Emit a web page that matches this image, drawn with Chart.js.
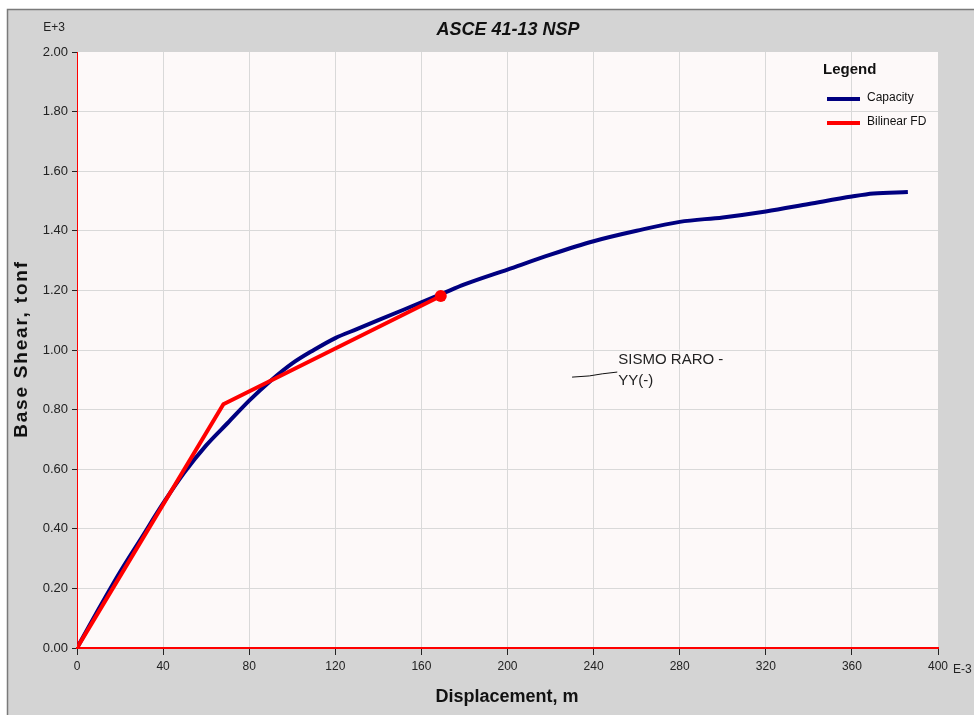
<!DOCTYPE html>
<html>
<head>
<meta charset="utf-8">
<script src="https://cdn.jsdelivr.net/npm/chart.js@4.4.0/dist/chart.umd.min.js"></script>
<style>
  html, body { margin: 0; padding: 0; background: #ffffff; }
  #wrap { width: 974px; height: 715px; position: relative; }
</style>
</head>
<body>
<div id="wrap"><canvas id="nsp" width="974" height="715"></canvas></div>
<script>
// displacement in E-3 m, base shear in E+3 tonf
var capDisp  = [0, 10, 20, 30, 40, 50, 60, 70, 80, 90, 100, 110, 120, 130, 140, 160, 170, 180, 200, 220, 240, 260, 280, 300, 320, 340, 360, 370, 386];
var capShear = [0, 0.13, 0.255, 0.37, 0.485, 0.59, 0.68, 0.755, 0.83, 0.897, 0.955, 1.0, 1.04, 1.07, 1.10, 1.16, 1.19, 1.22, 1.27, 1.32, 1.365, 1.40, 1.43, 1.445, 1.465, 1.49, 1.515, 1.525, 1.53];

var biDisp  = [0, 68, 169];
var biShear = [0, 0.818, 1.181];

var xTicks = [0, 40, 80, 120, 160, 200, 240, 280, 320, 360, 400];
var yTicks = [0, 0.2, 0.4, 0.6, 0.8, 1.0, 1.2, 1.4, 1.6, 1.8, 2.0];

var noteText = ['SISMO RARO -', 'YY(-)'];
var notePath = [[230, 0.909], [238, 0.913], [244, 0.92], [251, 0.926]];

function toPoints(xs, ys) {
    return xs.map(function (x, i) { return { x: x, y: ys[i] }; });
}

var FONT = '"Liberation Sans", Arial, sans-serif';

var framePlugin = {
    id: 'frame',
    beforeDraw: function (chart) {
        var ctx = chart.ctx, a = chart.chartArea;
        ctx.save();
        ctx.fillStyle = '#ffffff';
        ctx.fillRect(0, 0, chart.width, chart.height);
        ctx.fillStyle = '#d4d4d4';
        ctx.fillRect(7, 9, chart.width - 7, chart.height - 9);
        ctx.strokeStyle = '#7a7a7a';
        ctx.lineWidth = 1.5;
        ctx.beginPath();
        ctx.moveTo(7.5, chart.height);
        ctx.lineTo(7.5, 9.5);
        ctx.lineTo(chart.width, 9.5);
        ctx.stroke();
        ctx.fillStyle = '#fdf9f9';
        ctx.fillRect(a.left, a.top, a.right - a.left, a.bottom - a.top);
        ctx.restore();
    },
    afterDraw: function (chart) {
        var ctx = chart.ctx;
        var xs = chart.scales.x, ys = chart.scales.y;
        ctx.save();
        ctx.fillStyle = '#111';
        ctx.textBaseline = 'middle';

        // title
        ctx.textAlign = 'center';
        ctx.font = 'italic bold 18px ' + FONT;
        ctx.fillText('ASCE 41-13 NSP', 508, 30);

        // axis titles
        ctx.font = 'bold 18px ' + FONT;
        ctx.fillText('Displacement, m', 507, 697);
        ctx.save();
        ctx.translate(22, 349);
        ctx.rotate(-Math.PI / 2);
        ctx.font = 'bold 19px ' + FONT;
        ctx.letterSpacing = '1.8px';
        ctx.fillText('Base Shear, tonf', 0, 0);
        ctx.restore();

        // exponents
        ctx.font = '12px ' + FONT;
        ctx.fillStyle = '#222';
        ctx.fillText('E+3', 54, 28);
        ctx.textAlign = 'left';
        ctx.fillText('E-3', 953, 670);

        // legend
        ctx.fillStyle = '#111';
        ctx.font = 'bold 15px ' + FONT;
        ctx.fillText('Legend', 823, 70);
        ctx.font = '12px ' + FONT;
        ctx.lineWidth = 4;
        ctx.strokeStyle = '#000080';
        ctx.beginPath(); ctx.moveTo(827, 99); ctx.lineTo(860, 99); ctx.stroke();
        ctx.fillText('Capacity', 867, 98);
        ctx.strokeStyle = '#ff0000';
        ctx.beginPath(); ctx.moveTo(827, 123); ctx.lineTo(860, 123); ctx.stroke();
        ctx.fillText('Bilinear FD', 867, 122);

        // annotation
        ctx.strokeStyle = '#111';
        ctx.lineWidth = 1;
        ctx.beginPath();
        notePath.forEach(function (p, i) {
            var px = xs.getPixelForValue(p[0]), py = ys.getPixelForValue(p[1]);
            if (i === 0) ctx.moveTo(px, py); else ctx.lineTo(px, py);
        });
        ctx.stroke();
        ctx.font = '15px ' + FONT;
        ctx.fillStyle = '#222';
        var tx = xs.getPixelForValue(251.5), ty = ys.getPixelForValue(0.966);
        ctx.fillText(noteText[0], tx, ty);
        ctx.fillText(noteText[1], tx, ty + 21);
        ctx.restore();
    }
};

function gridColor(c) {
    var last = c.scale.ticks.length - 1;
    return (c.index === last || c.index === 0) ? 'rgba(0,0,0,0)' : '#d9d9d9';
}

new Chart(document.getElementById('nsp'), {
    type: 'scatter',
    data: {
        datasets: [
            {
                label: 'Bilinear FD',
                data: toPoints(biDisp, biShear),
                showLine: true,
                borderColor: '#ff0000',
                backgroundColor: '#ff0000',
                borderWidth: 4,
                pointRadius: function (c) { return c.dataIndex === biDisp.length - 1 ? 6 : 0; },
                pointBackgroundColor: '#ff0000',
                pointBorderWidth: 0,
                order: 1
            },
            {
                label: 'Capacity',
                data: toPoints(capDisp, capShear),
                showLine: true,
                borderColor: '#000080',
                borderWidth: 4,
                pointRadius: 0,
                cubicInterpolationMode: 'monotone',
                order: 2
            }
        ]
    },
    options: {
        responsive: false,
        animation: false,
        layout: { padding: { left: 0, top: 52, right: 36, bottom: 0 } },
        plugins: { legend: { display: false }, tooltip: { enabled: false } },
        scales: {
            x: {
                type: 'linear',
                min: 0, max: 400,
                afterBuildTicks: function (s) { s.ticks = xTicks.map(function (v) { return { value: v }; }); },
                afterFit: function (s) { s.height = 67; },
                ticks: {
                    maxRotation: 0, autoSkip: false, padding: 4,
                    color: '#222', font: { family: FONT, size: 12 }
                },
                grid: { color: gridColor, tickColor: '#222', tickLength: 7, lineWidth: 1 },
                border: { color: '#ff0000', width: 2 }
            },
            y: {
                type: 'linear',
                min: 0, max: 2,
                afterBuildTicks: function (s) { s.ticks = yTicks.map(function (v) { return { value: v }; }); },
                afterFit: function (s) { s.width = 77; },
                ticks: {
                    padding: 4, color: '#222', font: { family: FONT, size: 13 },
                    callback: function (v) { return Number(v).toFixed(2); }
                },
                grid: { color: gridColor, tickColor: '#222', tickLength: 5, lineWidth: 1 },
                border: { color: '#ff0000', width: 1 }
            }
        }
    },
    plugins: [framePlugin]
});
</script>
</body>
</html>
